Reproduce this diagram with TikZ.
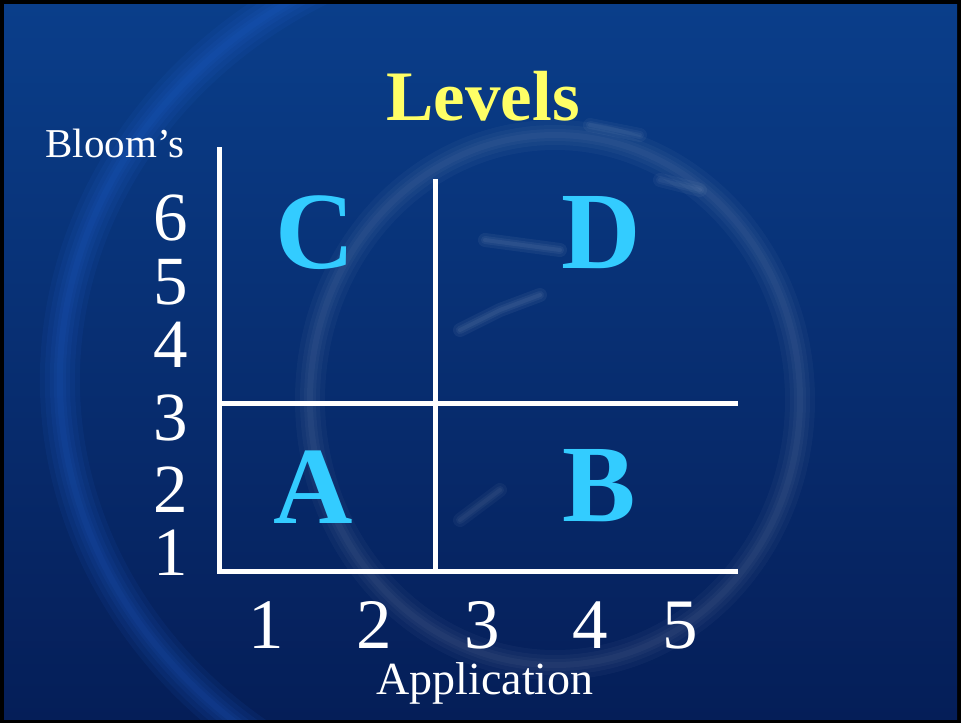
\documentclass[tikz,border=0pt]{standalone}
\usepackage{fontspec}
\setmainfont{Liberation Serif}
\definecolor{bgtop}{RGB}{10,62,138}
\definecolor{bgbot}{RGB}{5,30,88}
\definecolor{arcblue}{RGB}{40,110,230}
\definecolor{titleyellow}{RGB}{255,255,102}
\definecolor{letterblue}{RGB}{51,204,255}
\tikzset{
  axisline/.style={white, line width=5pt},
  ttl/.style={anchor=base, inner sep=0pt, text=titleyellow, font=\fontsize{71}{71}\selectfont\bfseries},
  lbl/.style={anchor=base, inner sep=0pt, text=white, font=\fontsize{41}{41}\selectfont},
  applbl/.style={anchor=base, inner sep=0pt, text=white, font=\fontsize{46}{46}\selectfont},
  ydigit/.style={anchor=base east, inner sep=0pt, text=white, font=\fontsize{69}{69}\selectfont},
  xdigit/.style={anchor=base, inner sep=0pt, text=white, font=\fontsize{71}{71}\selectfont},
  quad/.style={anchor=base, inner sep=0pt, text=letterblue, font=\fontsize{110}{110}\selectfont\bfseries}
}
\begin{document}
\begin{tikzpicture}[x=1pt,y=-1pt]
\useasboundingbox (0,0) rectangle (961,723);
% frame and background
\fill[black] (0,0) rectangle (961,723);
\shade[top color=bgtop, bottom color=bgbot] (4,4) rectangle (957,719);
\begin{scope}
\clip (4,4) rectangle (957,719);
% soft left arc
\foreach \w in {40,30,20,12,6} {
  \draw[arcblue, opacity=0.08, line width=\w pt]
    (560,380) ++(105:500 and 450) arc[start angle=105, end angle=255, x radius=500, y radius=450];
}
% soft central ring
\foreach \w in {30,20,12,6} {
  \draw[white, opacity=0.03, line width=\w pt] (555,400) ellipse (245 and 265);
}
% soft blurred streaks
\foreach \w in {14,8,4} {
  \draw[white, opacity=0.05, line width=\w pt, line cap=round] (485,240) -- (560,250);
  \draw[white, opacity=0.05, line width=\w pt, line cap=round] (460,330) -- (500,310) -- (540,295);
  \draw[white, opacity=0.04, line width=\w pt, line cap=round] (590,125) -- (640,135);
  \draw[white, opacity=0.04, line width=\w pt, line cap=round] (660,180) -- (700,190);
  \draw[white, opacity=0.04, line width=\w pt, line cap=round] (460,520) -- (500,490);
}
\end{scope}
% axes and grid
\coordinate (ytop) at (219.5,147);
\coordinate (yorig) at (219.5,571);
\coordinate (xend) at (738,571);
\coordinate (vtop) at (435,179);
\coordinate (vbot) at (435,571);
\coordinate (hleft) at (219.5,403);
\coordinate (hright) at (738,403);
\draw[axisline] (ytop) -- (yorig);
\draw[axisline] ([xshift=-2.5pt]yorig) -- (xend);
\draw[axisline] (vtop) -- (vbot);
\draw[axisline] (hleft) -- (hright);
% texts
\node[ttl] (title) at (483,120) {Levels};
\node[lbl] (bloom) at (115,157) {Bloom’s};
\node[ydigit] (y6) at (188,240) {6};
\node[ydigit] (y5) at (188,304) {5};
\node[ydigit] (y4) at (188,367) {4};
\node[ydigit] (y3) at (188,440) {3};
\node[ydigit] (y2) at (188,512) {2};
\node[ydigit] (y1) at (188,575) {1};
\node[xdigit] (x1) at (266,648) {1};
\node[xdigit] (x2) at (374,648) {2};
\node[xdigit] (x3) at (482,648) {3};
\node[xdigit] (x4) at (590,648) {4};
\node[xdigit] (x5) at (680,648) {5};
\node[applbl] (app) at (485,694) {Application};
\node[quad] (qc) at (315,268) {C};
\node[quad] (qd) at (601,268) {D};
\node[quad] (qa) at (313,523) {A};
\node[quad] (qb) at (599,521) {B};
\end{tikzpicture}
\end{document}
